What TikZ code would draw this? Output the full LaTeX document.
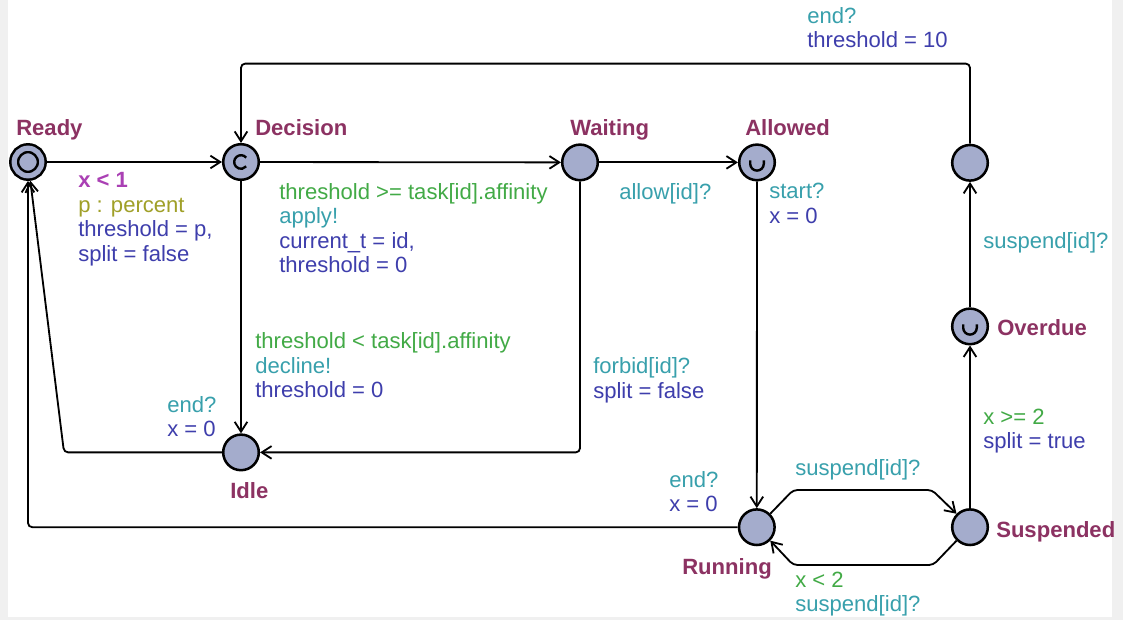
\documentclass[tikz,border=0pt]{standalone}
\usepackage{fontspec}
\setmainfont{Liberation Sans}
\usetikzlibrary{arrows.meta}

\definecolor{locfill}{RGB}{164,172,204}
\definecolor{namecol}{RGB}{140,50,98}
\definecolor{invcol}{RGB}{170,64,180}
\definecolor{selcol}{RGB}{160,160,40}
\definecolor{guardcol}{RGB}{66,170,70}
\definecolor{synccol}{RGB}{56,160,172}
\definecolor{updcol}{RGB}{62,62,172}

\newcommand{\dgfont}{\fontsize{15.7}{17.4}\selectfont}

\tikzset{
  loc/.style={draw, circle, fill=locfill, line width=1.8pt, minimum size=0.89cm, inner sep=0pt},
  committed/.style={loc, path picture={
    \draw[line width=1.7pt] (path picture bounding box.center) ++(40:0.17) arc[start angle=40, end angle=320, radius=0.17];}},
  urgent/.style={loc, path picture={
    \draw[line width=1.7pt] ([shift={(-0.17,0.05)}]path picture bounding box.center) -- ++(0,-0.085)
      arc[start angle=180, end angle=360, radius=0.17] -- ++(0,0.085);}},
  lname/.style={anchor=base west, inner sep=0pt, text=namecol, font=\dgfont\bfseries},
  lbl/.style={anchor=north west, align=left, inner sep=0pt, font=\dgfont},
  trans/.style={->, line width=1.3pt, rounded corners=3pt},
}

\begin{document}
\begin{tikzpicture}[>={Straight Barb[length=7pt,width=9pt]}]
\useasboundingbox (0,0) rectangle (28.075,-15.5);
\fill[gray!12] (0,0) rectangle (28.075,-15.5);
\fill[white] (0.2,0) rectangle (27.79,-15.42);

% locations
\node[loc, minimum size=0.69cm, double=locfill, double distance=3.7pt, outer sep=3.6pt] (ready) at (0.70,-4.05) {};
\node[committed] (decision) at (6.025,-4.05) {};
\node[loc] (waiting) at (14.50,-4.06) {};
\node[urgent] (allowed) at (18.925,-4.06) {};
\node[loc] (fin) at (24.25,-4.07) {};
\node[urgent] (overdue) at (24.25,-8.16) {};
\node[loc] (suspended) at (24.25,-13.18) {};
\node[loc] (running) at (18.92,-13.18) {};
\node[loc] (idle) at (6.025,-11.31) {};

\node[lname] (nReady) at (0.40,-3.375) {Ready};
\node[lname] (nDecision) at (6.375,-3.375) {Decision};
\node[lname] (nWaiting) at (14.25,-3.375) {Waiting};
\node[lname] (nAllowed) at (18.625,-3.375) {Allowed};
\node[lname] (nIdle) at (5.75,-12.46) {Idle};
\node[lname] (nOverdue) at (24.925,-8.375) {Overdue};
\node[lname] (nSuspended) at (24.90,-13.43) {Suspended};
\node[lname] (nRunning) at (17.05,-14.35) {Running};

% transitions
\draw[trans] (ready) -- (decision);
\draw[trans] (decision) -- (waiting);
\draw[trans] (waiting) -- (allowed);
\draw[trans] (allowed) -- (running);
\draw[trans] (running.45) -- (19.83,-12.25) -- (23.30,-12.25) -- (suspended.135);
\draw[trans] (suspended.225) -- (23.33,-14.125) -- (19.83,-14.125) -- (running.-45);
\draw[trans] (suspended) -- (overdue);
\draw[trans] (overdue) -- (fin);
\draw[trans] (fin) -- ++(0,2.48) -| (decision);
\draw[trans] (decision) -- (idle);
\draw[trans] (waiting) |- (idle);
\draw[trans] (idle) -- (1.60,-11.31) -- (ready);
\draw[trans] (running) -| (ready);

% labels
\node[lbl] (gReady) at (1.95,-4.31) {\textcolor{invcol}{\bfseries x < 1}\\\textcolor{selcol}{p : percent}\\\textcolor{updcol}{threshold = p,}\\\textcolor{updcol}{split = false}};
\node[lbl] (gApply) at (6.975,-4.58) {\textcolor{guardcol}{threshold >= task[id].affinity}\\\textcolor{synccol}{apply!}\\\textcolor{updcol}{current\_t = id,}\\\textcolor{updcol}{threshold = 0}};
\node[lbl] (gAllow) at (15.475,-4.59) {\textcolor{synccol}{allow[id]?}};
\node[lbl] (gStart) at (19.225,-4.58) {\textcolor{synccol}{start?}\\\textcolor{updcol}{x = 0}};
\node[lbl] (gBack) at (20.175,-0.175) {\textcolor{synccol}{end?}\\\textcolor{updcol}{threshold = 10}};
\node[lbl] (gOver) at (24.575,-5.815) {\textcolor{synccol}{suspend[id]?}};
\node[lbl] (gSusOver) at (24.575,-10.21) {\textcolor{guardcol}{x >= 2}\\\textcolor{updcol}{split = true}};
\node[lbl] (gRunSus) at (19.875,-11.48) {\textcolor{synccol}{suspend[id]?}};
\node[lbl] (gSusRun) at (19.875,-14.29) {\textcolor{guardcol}{x < 2}\\\textcolor{synccol}{suspend[id]?}};
\node[lbl] (gRunEnd) at (16.725,-11.775) {\textcolor{synccol}{end?}\\\textcolor{updcol}{x = 0}};
\node[lbl] (gForbid) at (14.825,-8.94) {\textcolor{synccol}{forbid[id]?}\\\textcolor{updcol}{split = false}};
\node[lbl] (gDecline) at (6.375,-8.315) {\textcolor{guardcol}{threshold < task[id].affinity}\\\textcolor{synccol}{decline!}\\\textcolor{updcol}{threshold = 0}};
\node[lbl] (gIdleEnd) at (4.175,-9.90) {\textcolor{synccol}{end?}\\\textcolor{updcol}{x = 0}};
\end{tikzpicture}
\end{document}
